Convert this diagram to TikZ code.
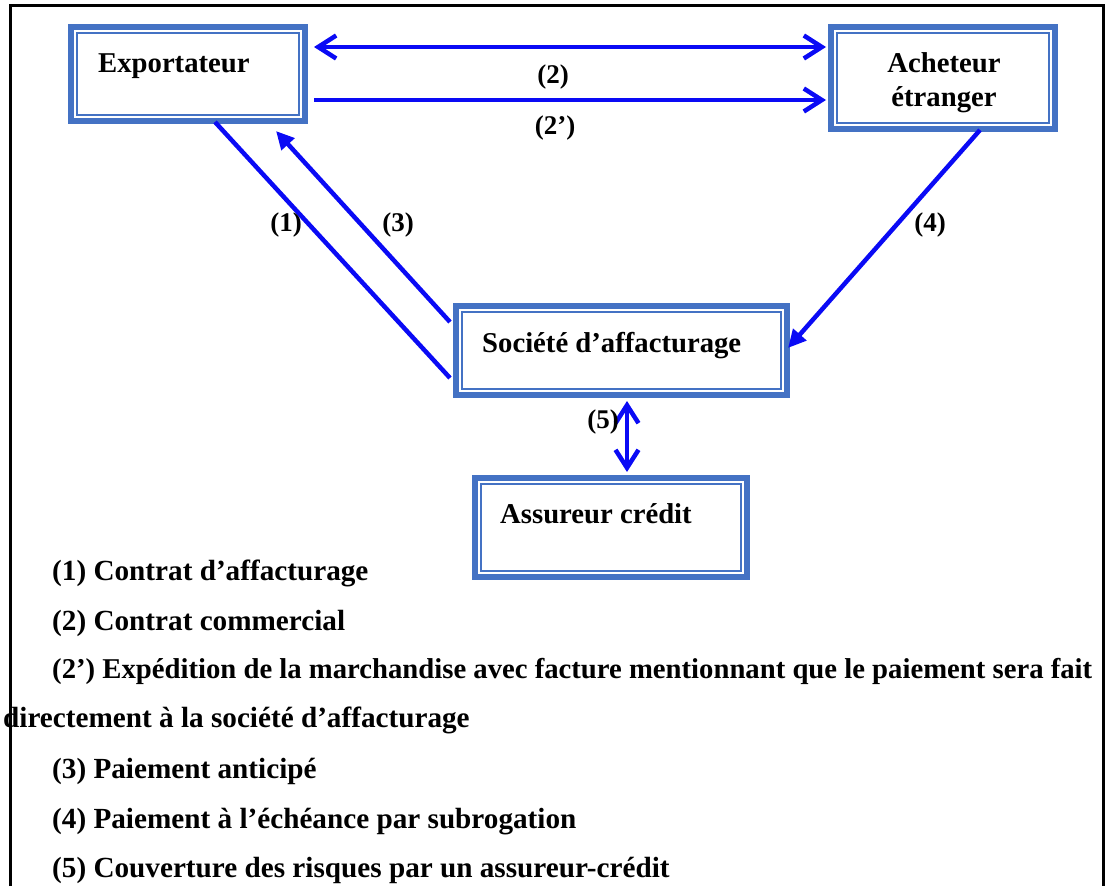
\documentclass[tikz,border=0pt]{standalone}
\usepackage{fontspec}
\setmainfont{Liberation Serif}
\usetikzlibrary{arrows.meta,calc}
\definecolor{boxblue}{HTML}{4472C4}
\definecolor{flowblue}{HTML}{0A0AF5}
\begin{document}
\begin{tikzpicture}[x=1pt,y=-1pt,
  box/.style={draw=boxblue, line width=6pt, fill=white, inner sep=0pt,
    path picture={\draw[boxblue, line width=2pt]
      ([xshift=6pt,yshift=-6pt]path picture bounding box.north west) rectangle
      ([xshift=-6pt,yshift=6pt]path picture bounding box.south east);}},
  txt/.style={inner sep=0pt, font=\fontsize{28.7}{34}\selectfont\bfseries},
  legend/.style={inner sep=0pt, font=\fontsize{29.2}{34}\selectfont\bfseries},
  lbl/.style={inner sep=0pt, font=\fontsize{27}{32}\selectfont\bfseries},
  flow/.style={draw=flowblue, line width=4.5pt},
  barb/.tip={Straight Barb[length=18pt,width=23pt]},
  head/.tip={Triangle[length=18pt,width=17pt]}]
\useasboundingbox (0,0) rectangle (1105,886);

% outer frame, open at the bottom
\draw[line width=3pt] (10,886) -- (10,5) -- (1103.5,5) -- (1103.5,886);

% parties
\node[box, minimum width=234pt, minimum height=94pt]  (exp) at (188,74) {};
\node[box, minimum width=224pt, minimum height=102pt] (ach) at (943,78) {};
\node[box, minimum width=331pt, minimum height=89pt]  (soc) at (621.5,350.5) {};
\node[box, minimum width=272pt, minimum height=99pt]  (ass) at (611,527.5) {};

\node[txt, anchor=base west] (expt)  at (98,72)   {Exportateur};
\node[txt, anchor=base]      (acht1) at (944,72)  {Acheteur};
\node[txt, anchor=base]      (acht2) at (944,106) {étranger};
\node[txt, anchor=base west] (soct)  at (482,352) {Société d’affacturage};
\node[txt, anchor=base west] (asst)  at (500,523) {Assureur crédit};

% flows between the parties
\draw[flow, barb-barb] ($(exp.east)+(6,-27)$) -- ($(ach.west)+(-2,-31)$);
\draw[flow, -barb]     ($(exp.east)+(6,26)$)  -- ($(ach.west)+(-2,22)$);
\draw[flow]            ($(exp.south)+(27,-2)$) -- ($(soc.west)+(-3,27.5)$);
\draw[flow, -head]     ($(soc.west)+(-3,-28.5)$) -- ($(exp.south)+(88,7)$);
\draw[flow, -head]     ($(ach.south)+(37,-2)$) -- ($(soc.east)+(-2,-2.5)$);
\draw[flow, barb-barb] ($(soc.south)+(5.5,3)$) -- ($(ass.north)+(16,-3)$);

% flow numbers
\node[lbl] (l2)  at (553,77)  {(2)};
\node[lbl] (l2p) at (555,128) {(2’)};
\node[lbl] (l1)  at (286,225) {(1)};
\node[lbl] (l3)  at (398,225) {(3)};
\node[lbl] (l4)  at (930,225) {(4)};
\node[lbl] (l5)  at (603,422) {(5)};

% legend
\node[legend, anchor=base west] (k1)  at (52,580) {(1) Contrat d’affacturage};
\node[legend, anchor=base west] (k2)  at (52,630) {(2) Contrat commercial};
\node[legend, anchor=base west, font=\fontsize{28.7}{34}\selectfont\bfseries]
  (k2a) at (52,678) {(2’) Expédition de la marchandise avec facture mentionnant que le paiement sera fait};
\node[legend, anchor=base west] (k2b) at (3,727)  {directement à la société d’affacturage};
\node[legend, anchor=base west] (k3)  at (52,778) {(3) Paiement anticipé};
\node[legend, anchor=base west] (k4)  at (52,828) {(4) Paiement à l’échéance par subrogation};
\node[legend, anchor=base west] (k5)  at (52,877) {(5) Couverture des risques par un assureur-crédit};
\end{tikzpicture}
\end{document}
